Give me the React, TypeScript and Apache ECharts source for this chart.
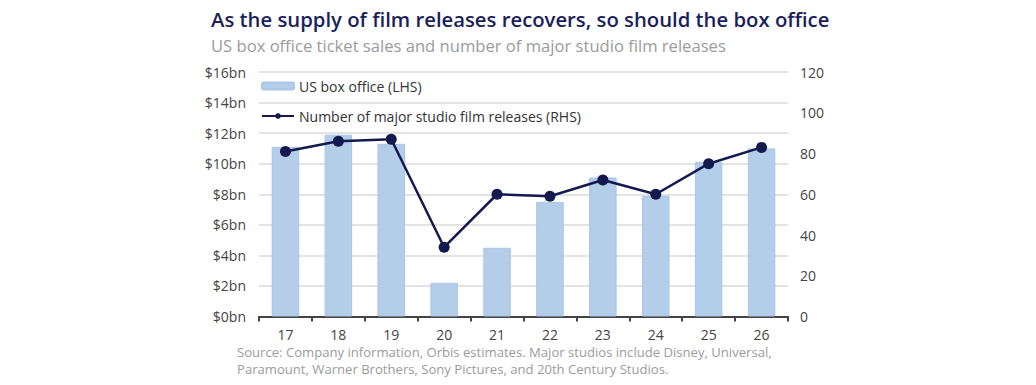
import React, { useEffect, useRef } from "react";
import * as echarts from "echarts";

const categories = ["17", "18", "19", "20", "21", "22", "23", "24", "25", "26"];
const boxOffice = [11.1, 11.9, 11.3, 2.2, 4.5, 7.5, 9.1, 7.9, 10.1, 11.0];
const releases = [81, 86, 87, 34, 60, 59, 67, 60, 75, 83];

const titleText = "As the supply of film releases recovers, so should the box office";
const subtitleText = "US box office ticket sales and number of major studio film releases";
const sourceLine1 = "Source: Company information, Orbis estimates. Major studios include Disney, Universal,";
const sourceLine2 = "Paramount, Warner Brothers, Sony Pictures, and 20th Century Studios.";
const barName = "US box office (LHS)";
const lineName = "Number of major studio film releases (RHS)";

const FONT = "Open Sans";

export default function App() {
  const ref = useRef<HTMLDivElement>(null);
  useEffect(() => {
    if (!ref.current) return;
    const chart = echarts.init(ref.current, undefined, { renderer: "svg" });
    chart.setOption({
      animation: false,
      backgroundColor: "#ffffff",
      textStyle: { fontFamily: FONT },
      title: [
        {
          text: titleText,
          left: 211,
          top: 9,
          padding: 0,
          textStyle: { fontFamily: FONT, fontSize: 20.3, fontWeight: 600, color: "#1b1f5b" },
        },
        {
          text: subtitleText,
          left: 211,
          top: 37,
          padding: 0,
          textStyle: { fontFamily: FONT, fontSize: 16.6, fontWeight: "normal", color: "#9b9b9b" },
        },
        {
          text: sourceLine1,
          left: 237,
          top: 345,
          padding: 0,
          textStyle: { fontFamily: FONT, fontSize: 13.1, lineHeight: 14, fontWeight: "normal", color: "#9b9b9b" },
        },
        {
          text: sourceLine2,
          left: 237,
          top: 362,
          padding: 0,
          textStyle: { fontFamily: FONT, fontSize: 13.1, lineHeight: 14, fontWeight: "normal", color: "#9b9b9b" },
        },
      ],
      legend: [
        {
          data: [barName],
          left: 261,
          top: 79,
          padding: 0,
          itemWidth: 32,
          itemHeight: 7,
          textStyle: { fontFamily: FONT, fontSize: 14, color: "#333" },
        },
        {
          data: [lineName],
          left: 261,
          top: 109,
          padding: 0,
          itemWidth: 32,
          itemHeight: 7,
          textStyle: { fontFamily: FONT, fontSize: 14, color: "#333" },
        },
      ],
      grid: { left: 259, right: 248, top: 72, bottom: 68.5 },
      xAxis: {
        type: "category",
        data: categories,
        boundaryGap: true,
        axisLine: { lineStyle: { color: "#444", width: 2 } },
        axisTick: { show: true, length: 5, lineStyle: { color: "#444", width: 2 } },
        axisLabel: { color: "#444", fontSize: 14, lineHeight: 14, margin: 11, fontFamily: FONT },
      },
      yAxis: [
        {
          type: "value",
          min: 0,
          max: 16,
          interval: 2,
          axisLine: { show: false },
          axisTick: { show: false },
          axisLabel: {
            color: "#444",
            fontSize: 14,
            margin: 13,
            fontFamily: FONT,
            formatter: (v: number) => "$" + v + "bn",
          },
          splitLine: { lineStyle: { color: "#dadada", width: 1.5 } },
        },
        {
          type: "value",
          min: 0,
          max: 120,
          interval: 20,
          axisLine: { show: false },
          axisTick: { show: false },
          axisLabel: { color: "#444", fontSize: 14, margin: 12, fontFamily: FONT },
          splitLine: { show: false },
        },
      ],
      series: [
        {
          name: barName,
          type: "bar",
          data: boxOffice,
          yAxisIndex: 0,
          barWidth: "52%",
          itemStyle: { color: "#b4cde9", borderColor: "#a9c6e6", borderWidth: 1 },
        },
        {
          name: lineName,
          type: "line",
          data: releases,
          yAxisIndex: 1,
          symbol: "circle",
          symbolSize: 11,
          lineStyle: { color: "#141a4f", width: 2.5 },
          itemStyle: { color: "#141a4f" },
          z: 5,
        },
      ],
    });
    return () => chart.dispose();
  }, []);
  return <div ref={ref} style={{ width: 1036, height: 385, position: "absolute", left: 0, top: 0 }} />;
}
